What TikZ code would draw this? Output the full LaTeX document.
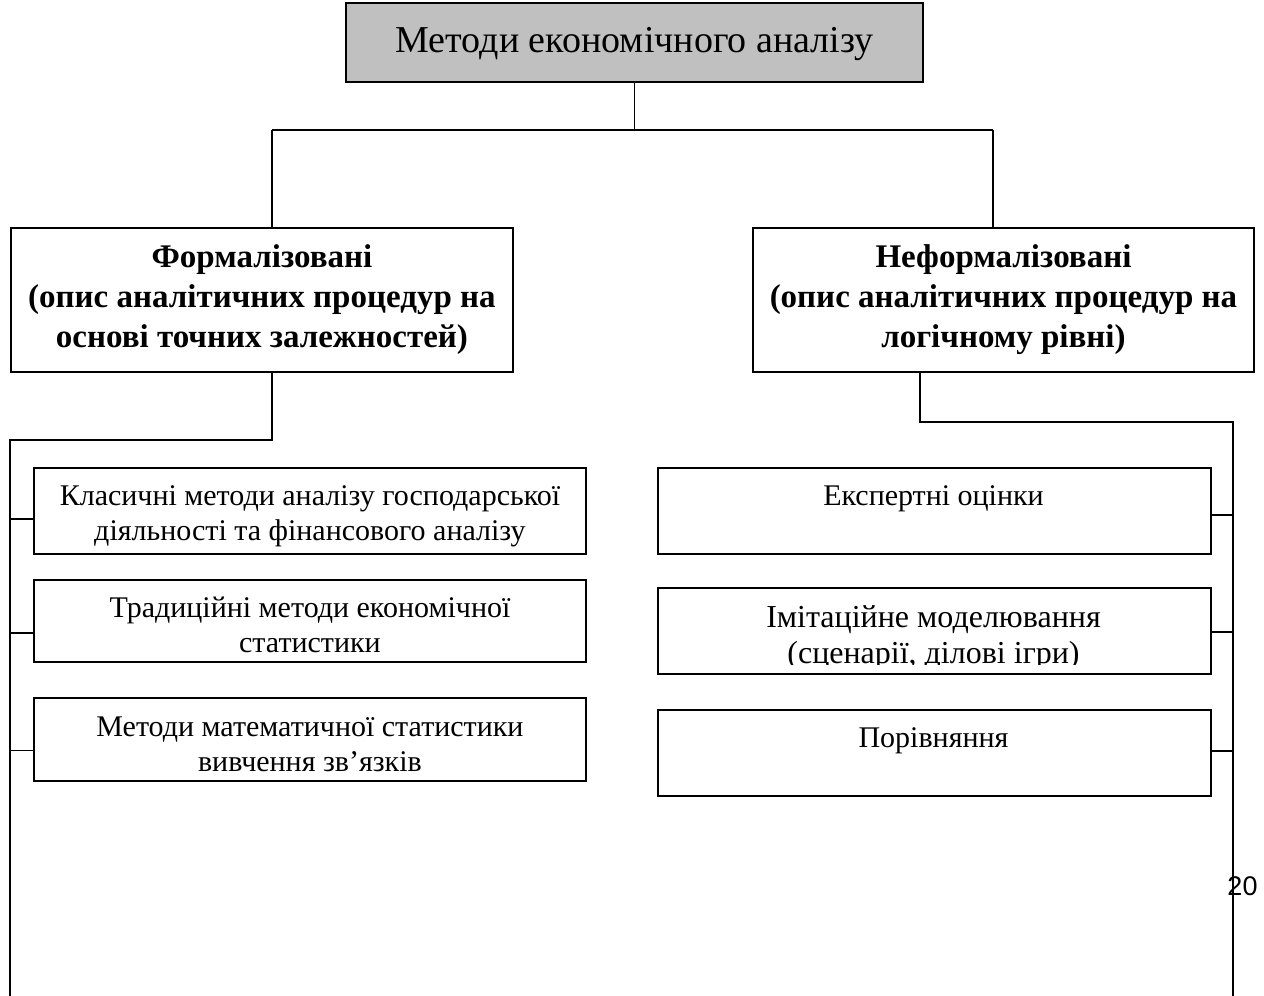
\documentclass[tikz,border=0pt]{standalone}
\usepackage{fontspec}
\setmainfont{Liberation Serif}
\newfontfamily\pagenumfont{Liberation Sans}
\usetikzlibrary{calc}
\definecolor{headgray}{RGB}{192,192,192}
\begin{document}
\begin{tikzpicture}[x=1pt,y=-1pt,
  conn/.style={line width=1.9pt, black},
  box/.style={draw, line width=1.9pt, inner sep=0pt, align=center, anchor=north west},
  label text/.style={inner sep=0pt, align=center},
  headfont/.style={font=\fontsize{38}{45}\selectfont},
  groupfont/.style={font=\fontsize{33}{40}\selectfont\bfseries},
  itemfont/.style={font=\fontsize{30}{35}\selectfont},
  bigitemfont/.style={font=\fontsize{32}{37}\selectfont}
]
\useasboundingbox (0,0) rectangle (1264,996);

% root
\node[box, fill=headgray, minimum width=577pt, minimum height=79pt] (top) at (345,2) {};
\node[label text, headfont] (topt) at ([yshift=-2pt]top.center) {Методи економічного аналізу};

% two groups
\node[box, minimum width=502pt, minimum height=144pt, groupfont] (formal) at (10,227)
  {Формалізовані\\(опис аналітичних процедур на\\основі точних залежностей)};
\node[box, minimum width=501pt, minimum height=144pt, groupfont] (informal) at (752,227)
  {Неформалізовані\\(опис аналітичних процедур на\\логічному рівні)};

% formal methods
\node[box, minimum width=552pt, minimum height=86pt] (c1) at (33,467) {};
\node[label text, itemfont] (c1t) at ([yshift=-5pt]c1.center)
  {Класичні методи аналізу господарської\\діяльності та фінансового аналізу};
\node[box, minimum width=552pt, minimum height=82pt] (c2) at (33,579) {};
\node[label text, itemfont] (c2t) at ([yshift=-4pt]c2.center)
  {Традиційні методи економічної\\статистики};
\node[box, minimum width=552pt, minimum height=83pt] (c3) at (33,697) {};
\node[label text, itemfont] (c3t) at ([yshift=-5pt]c3.center)
  {Методи математичної статистики\\вивчення зв’язків};

% informal methods
\node[box, minimum width=553pt, minimum height=86pt] (e1) at (657,467) {};
\node[label text, itemfont, anchor=base] (e1t) at (933.5,505) {Експертні оцінки};
\node[box, minimum width=553pt, minimum height=86pt] (e2) at (657,587) {};
\begin{scope}
  % second line runs past the frame and is cut off above its baseline
  \clip (657,587) rectangle (1210,664);
  \node[label text, bigitemfont, anchor=base] (e2a) at (933.5,627) {Імітаційне моделювання};
  \node[label text, bigitemfont, anchor=base] (e2b) at (933.5,663) {(сценарії, ділові ігри)};
\end{scope}
\node[box, minimum width=553pt, minimum height=86pt] (e3) at (657,709) {};
\node[label text, itemfont, anchor=base] (e3t) at (933.5,747) {Порівняння};

% root to groups
\coordinate (hubL) at (272,130);
\coordinate (hubR) at (993,130);
\draw[conn] (top.south) -- (top.south |- hubL);
\draw[conn] (hubL) -- (hubR);
\draw[conn] (hubL) -- (hubL |- formal.north);
\draw[conn] (hubR) -- (hubR |- informal.north);

% left bus
\coordinate (elbowL) at (272,440);
\coordinate (busL) at (10,440);
\coordinate (busLend) at (10,996);
\draw[conn] (elbowL |- formal.south) -- (elbowL) -- (busL) -- (busLend);
\draw[conn] ([yshift=-8pt]c1.west) -- ([yshift=-8pt]c1.west -| busL);
\draw[conn] ([yshift=-12pt]c2.west) -- ([yshift=-12pt]c2.west -| busL);
\draw[conn] ([yshift=-11pt]c3.west) -- ([yshift=-11pt]c3.west -| busL);

% right bus
\coordinate (elbowR) at (920,422);
\coordinate (busR) at (1233,422);
\coordinate (busRend) at (1233,996);
\draw[conn] (elbowR |- informal.south) -- (elbowR) -- (busR) -- (busRend);
\draw[conn] ([yshift=-4pt]e1.east) -- ([yshift=-4pt]e1.east -| busR);
\draw[conn] ([yshift=-1pt]e2.east) -- ([yshift=-1pt]e2.east -| busR);
\draw[conn] ([yshift=2pt]e3.east) -- ([yshift=2pt]e3.east -| busR);

% page number
\node[inner sep=0pt, font=\pagenumfont\fontsize{27}{32}\selectfont] (pagenum) at (1242.5,886) {20};
\end{tikzpicture}
\end{document}
